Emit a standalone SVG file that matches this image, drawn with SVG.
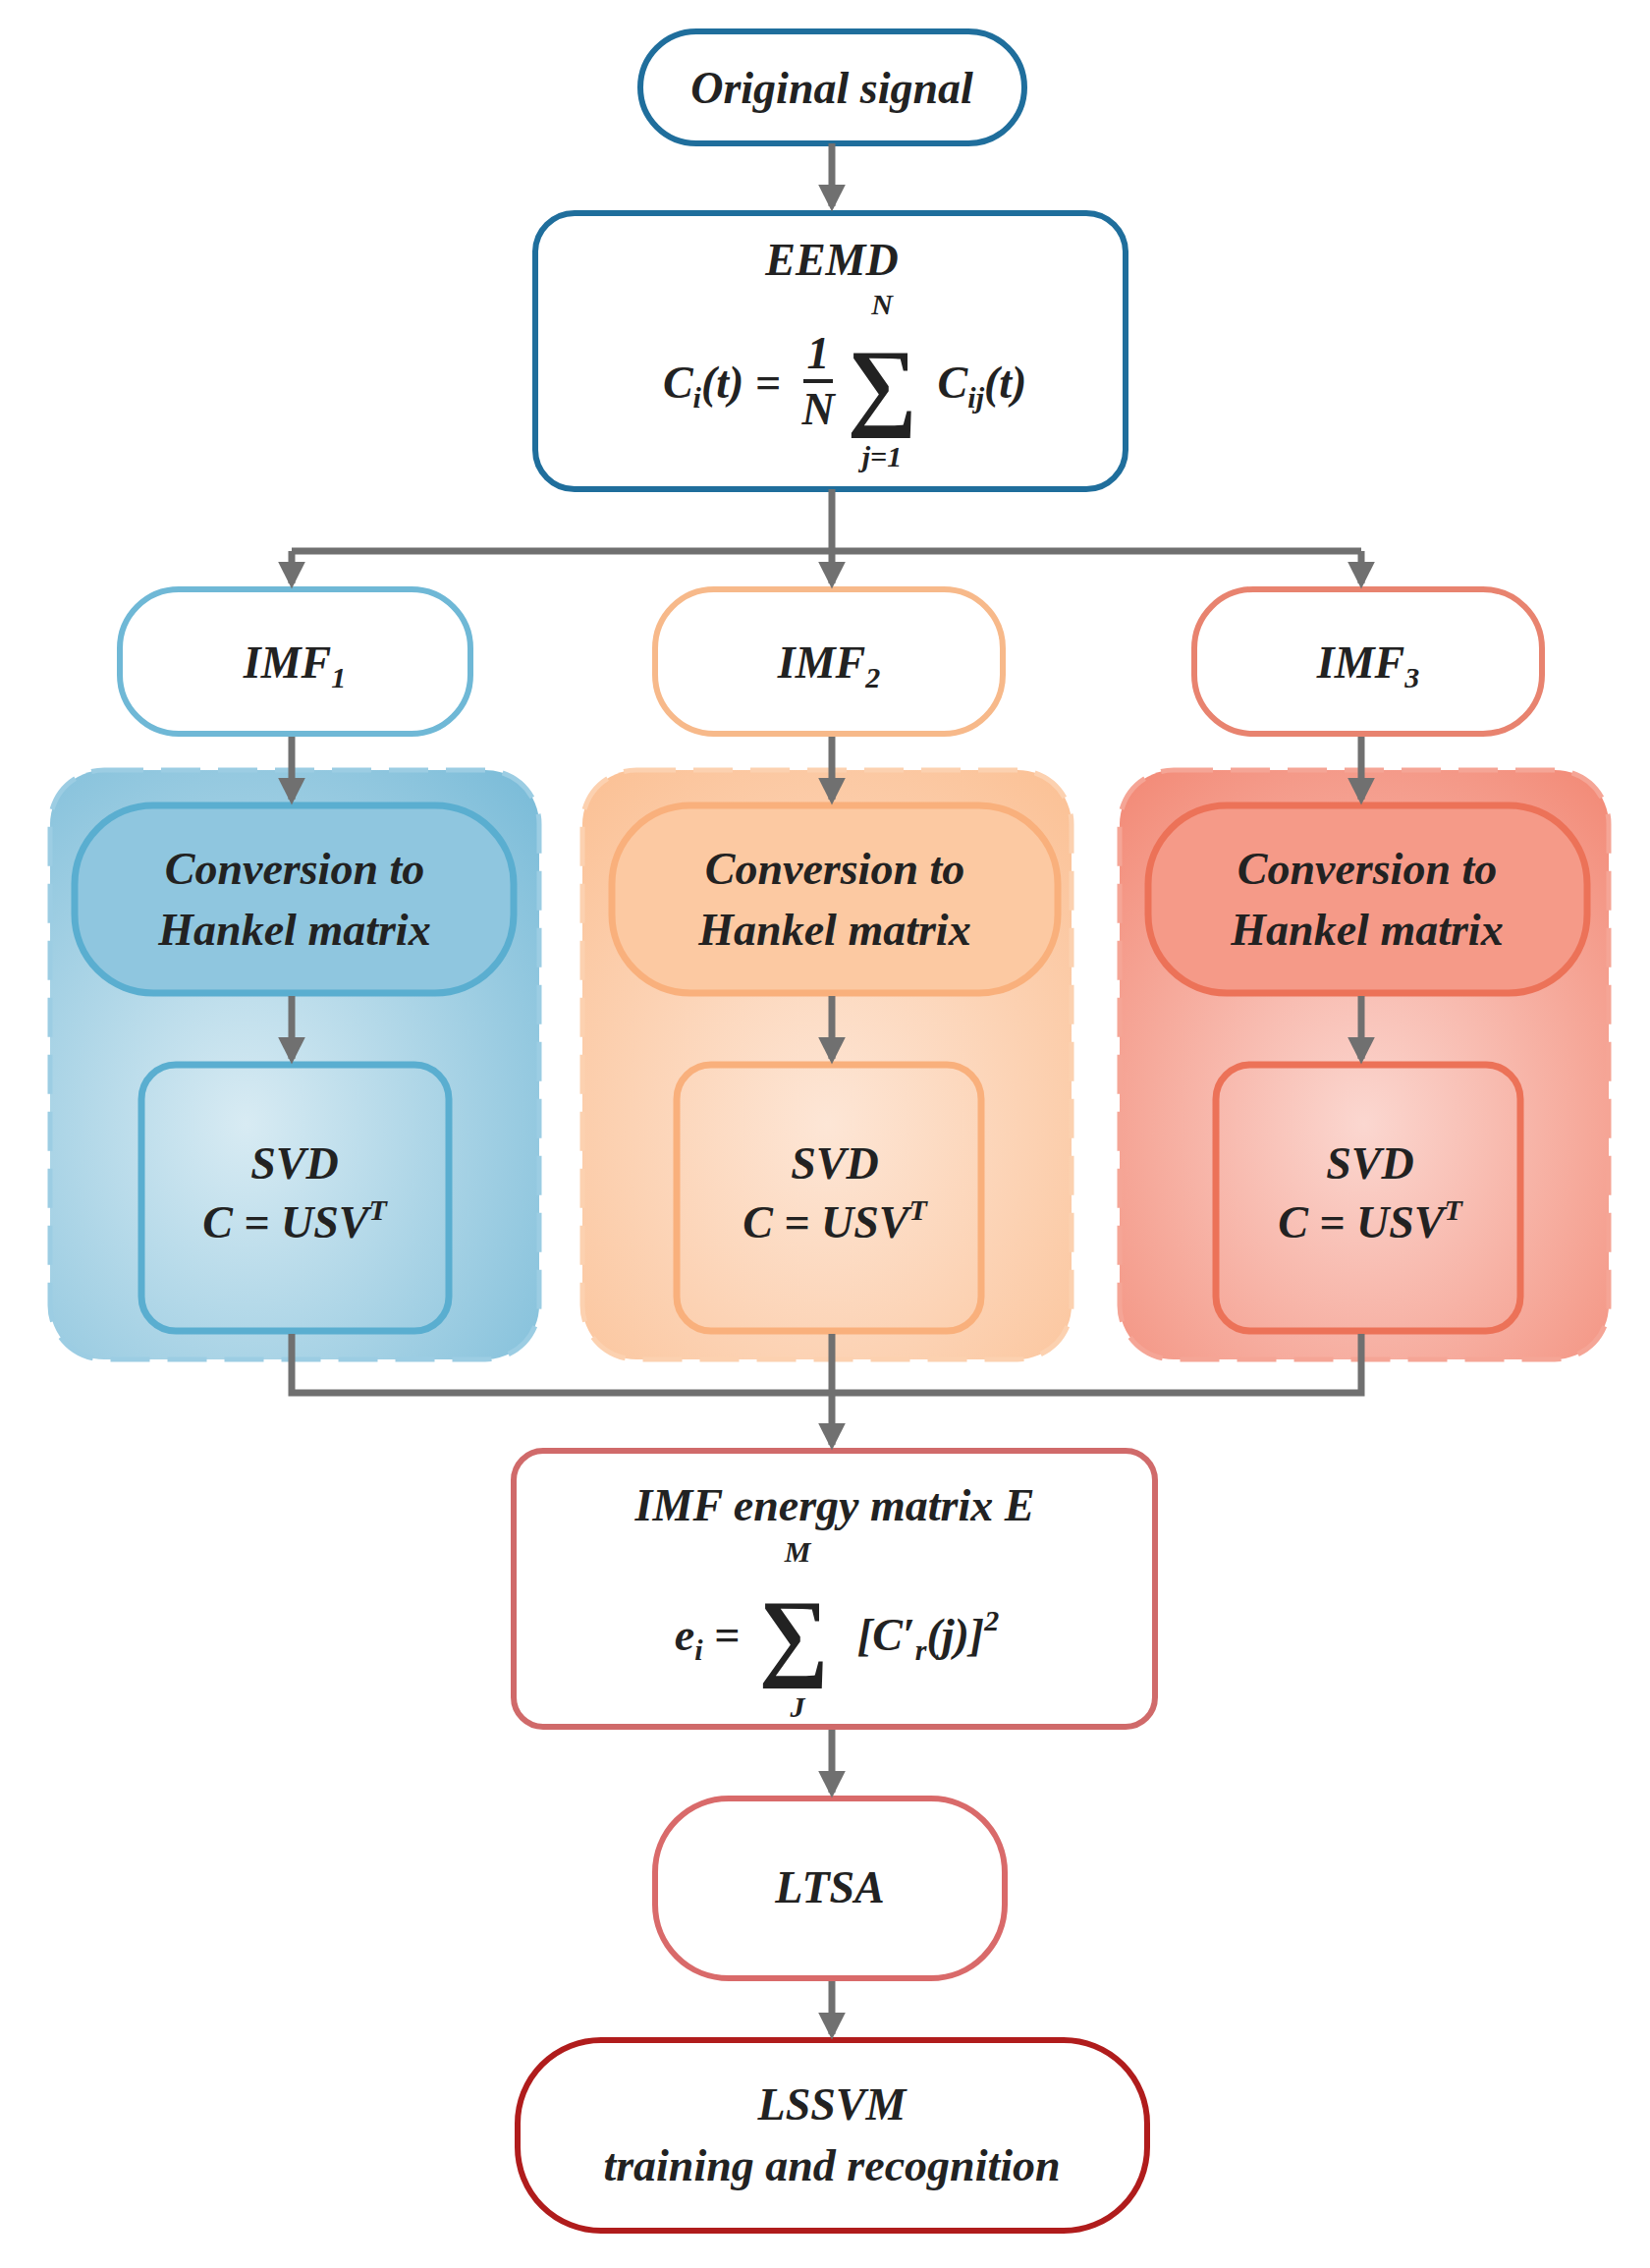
<svg xmlns="http://www.w3.org/2000/svg" width="1680" height="2309" viewBox="0 0 1680 2309">
<style>
text{font-family:"Liberation Serif","DejaVu Serif",serif;font-weight:bold;font-style:italic;fill:#222;text-anchor:middle}
.t{font-size:46px}
.s{font-size:30px}
.c{fill:none;stroke:#707070;stroke-width:7}
.b{fill:#fff;stroke-width:6}
</style>
<defs>
<marker id="a" viewBox="0 0 10 10" refX="8" refY="5" markerWidth="4" markerHeight="4" orient="auto"><path d="M0,0L10,5L0,10z" fill="#707070"/></marker>
<radialGradient id="g1" cx="0.4" cy="0.6" r="0.8"><stop offset="0" stop-color="#d8ebf3"/><stop offset="1" stop-color="#7dbdd9"/></radialGradient>
<radialGradient id="g2" cx="0.5" cy="0.6" r="0.8"><stop offset="0" stop-color="#fde6d6"/><stop offset="1" stop-color="#fbbf92"/></radialGradient>
<radialGradient id="g3" cx="0.5" cy="0.6" r="0.8"><stop offset="0" stop-color="#fbd7d0"/><stop offset="1" stop-color="#f28672"/></radialGradient>
</defs>
<g id="orig"><rect class="b" x="652" y="32" width="391" height="114" rx="57" stroke="#1f6e9c"/><text class="t" x="847" y="105">Original signal</text></g>
<g id="eemd"><rect class="b" x="545" y="217" width="601" height="281" rx="40" stroke="#1f6e9c"/>
<text class="t" x="847" y="280">EEMD</text>
<text class="t" x="735" y="405">C<tspan class="s" dy="10">i</tspan><tspan dy="-10">(t) =</tspan></text>
<text class="t" x="833" y="375">1</text><line x1="818" y1="388" x2="848" y2="388" stroke="#222" stroke-width="4"/><text class="t" x="833" y="432">N</text>
<text x="898" y="425" style="font-size:100px;font-style:normal">∑</text>
<text class="s" x="898" y="320">N</text><text class="s" x="898" y="475">j=1</text>
<text class="t" x="1000" y="405">C<tspan class="s" dy="10">ij</tspan><tspan dy="-10">(t)</tspan></text>
</g>
<g id="imf1"><rect class="b" x="122" y="600" width="357" height="147" rx="60" stroke="#6fb8d6"/><text class="t" x="300" y="690">IMF<tspan class="s" dy="10">1</tspan></text></g>
<g id="imf2"><rect class="b" x="667" y="600" width="354" height="147" rx="60" stroke="#f7b98a"/><text class="t" x="844" y="690">IMF<tspan class="s" dy="10">2</tspan></text></g>
<g id="imf3"><rect class="b" x="1216" y="600" width="354" height="147" rx="60" stroke="#e8836f"/><text class="t" x="1393" y="690">IMF<tspan class="s" dy="10">3</tspan></text></g>
<g id="grp1"><rect x="51" y="784" width="498" height="600" rx="55" fill="url(#g1)" stroke="#9ccde3" stroke-width="5" stroke-dasharray="40,18"/>
<rect x="76" y="820" width="447" height="191" rx="80" fill="#8fc6df" stroke="#5aaed0" stroke-width="7"/>
<text class="t" x="300" y="900">Conversion to</text><text class="t" x="300" y="962">Hankel matrix</text>
<rect x="144" y="1084" width="313" height="271" rx="35" fill="none" stroke="#5aaed0" stroke-width="7"/>
<text class="t" x="300" y="1200">SVD</text><text class="t" x="300" y="1260">C = USV<tspan class="s" dy="-18">T</tspan></text></g>
<g id="grp2"><rect x="593" y="784" width="498" height="600" rx="55" fill="url(#g2)" stroke="#fcd1b0" stroke-width="5" stroke-dasharray="40,18"/>
<rect x="623" y="820" width="454" height="191" rx="80" fill="#fcc9a2" stroke="#f9b07c" stroke-width="7"/>
<text class="t" x="850" y="900">Conversion to</text><text class="t" x="850" y="962">Hankel matrix</text>
<rect x="689" y="1084" width="310" height="271" rx="35" fill="none" stroke="#f9b07c" stroke-width="7"/>
<text class="t" x="850" y="1200">SVD</text><text class="t" x="850" y="1260">C = USV<tspan class="s" dy="-18">T</tspan></text></g>
<g id="grp3"><rect x="1140" y="784" width="498" height="600" rx="55" fill="url(#g3)" stroke="#f5a596" stroke-width="5" stroke-dasharray="40,18"/>
<rect x="1169" y="820" width="447" height="191" rx="80" fill="#f59a88" stroke="#ec7258" stroke-width="7"/>
<text class="t" x="1392" y="900">Conversion to</text><text class="t" x="1392" y="962">Hankel matrix</text>
<rect x="1238" y="1084" width="310" height="271" rx="35" fill="none" stroke="#ec7258" stroke-width="7"/>
<text class="t" x="1395" y="1200">SVD</text><text class="t" x="1395" y="1260">C = USV<tspan class="s" dy="-18">T</tspan></text></g>
<g id="energy"><rect class="b" x="523" y="1477" width="653" height="281" rx="30" stroke="#d06a6a"/>
<text class="t" x="850" y="1548">IMF energy matrix E</text>
<text class="t" x="720" y="1680">e<tspan class="s" dy="10">i</tspan><tspan dy="-10"> =</tspan></text>
<text x="808" y="1698" style="font-size:100px;font-style:normal">∑</text>
<text class="s" x="812" y="1590">M</text><text class="s" x="812" y="1748">J</text>
<text class="t" x="945" y="1680">[C′<tspan class="s" dy="10">r</tspan><tspan dy="-10">(j)]</tspan><tspan class="s" dy="-20">2</tspan></text></g>
<g id="ltsa"><rect class="b" x="667" y="1831" width="356" height="183" rx="75" stroke="#d96a6a"/><text class="t" x="845" y="1937">LTSA</text></g>
<g id="lssvm"><rect class="b" x="527" y="2077" width="641" height="194" rx="85" stroke="#b01c1c"/><text class="t" x="847" y="2158">LSSVM</text><text class="t" x="847" y="2220">training and recognition</text></g>
<g id="connectors">
<path class="c" d="M847,146V210" marker-end="url(#a)"/>
<path class="c" d="M847,498V561M297,561H1386"/>
<path class="c" d="M297,561V594" marker-end="url(#a)"/>
<path class="c" d="M847,561V594" marker-end="url(#a)"/>
<path class="c" d="M1386,561V594" marker-end="url(#a)"/>
<path class="c" d="M297,750V814" marker-end="url(#a)"/>
<path class="c" d="M847,750V814" marker-end="url(#a)"/>
<path class="c" d="M1386,750V814" marker-end="url(#a)"/>
<path class="c" d="M297,1014V1078" marker-end="url(#a)"/>
<path class="c" d="M847,1014V1078" marker-end="url(#a)"/>
<path class="c" d="M1386,1014V1078" marker-end="url(#a)"/>
<path class="c" d="M297,1358V1418H1386V1358"/>
<path class="c" d="M847,1358V1471" marker-end="url(#a)"/>
<path class="c" d="M847,1761V1825" marker-end="url(#a)"/>
<path class="c" d="M847,2017V2071" marker-end="url(#a)"/>
</g>
</svg>
